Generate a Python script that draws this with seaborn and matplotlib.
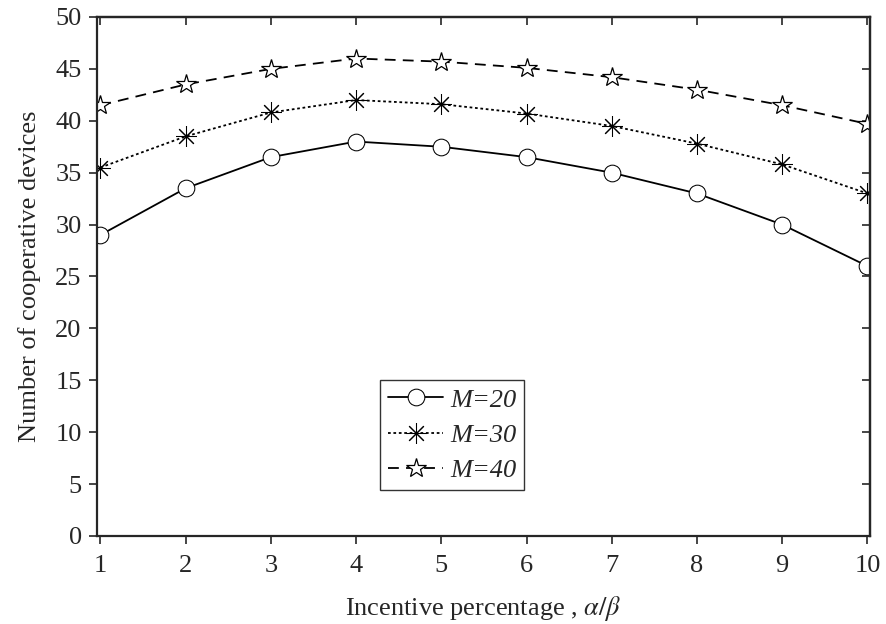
import matplotlib
matplotlib.use("Agg")
import matplotlib.pyplot as plt
import seaborn as sns
import pandas as pd

x_vals = [1, 2, 3, 4, 5, 6, 7, 8, 9, 10]
m20 = [29, 33.5, 36.5, 38, 37.5, 36.5, 35, 33, 30, 26]
m30 = [35.5, 38.5, 40.8, 42, 41.6, 40.7, 39.5, 37.8, 35.8, 33]
m40 = [41.5, 43.5, 45, 46, 45.7, 45.1, 44.2, 43, 41.5, 39.7]
labels = ["M=20", "M=30", "M=40"]

sns.set_style("ticks")
plt.rcParams["font.family"] = ["Liberation Serif", "DejaVu Serif"]
plt.rcParams["mathtext.fontset"] = "stix"

fig = plt.figure(figsize=(8.86, 6.24), dpi=100)
ax = fig.add_axes([97/886, 1-536/624, (870-97)/886, (536-17)/624])

styles = [
    dict(linestyle="-", marker="o", markersize=12, markerfacecolor="white"),
    dict(linestyle=(0, (1.5, 1.5)), marker=(8, 2, 0), markersize=15),
    dict(linestyle=(0, (6, 4)), marker="*", markersize=15, markerfacecolor="white", markeredgewidth=0.9),
]
for ys, lab, st in zip([m20, m30, m40], labels, styles):
    df = pd.DataFrame({"x": x_vals, "y": ys})
    sns.lineplot(data=df, x="x", y="y", ax=ax, color="black", linewidth=1.3,
                 markeredgecolor="black", label=lab, **st)

ax.set_xlim(0.96, 10.03)
ax.set_ylim(0, 50)
ax.set_xticks(range(1, 11))
ax.set_yticks(range(0, 51, 5))
ax.tick_params(axis="both", direction="out", length=6, width=1.2, labelsize=19, pad=5)
ax.tick_params(axis="x", pad=8)
for s in ax.spines.values():
    s.set_linewidth(1.6)
    s.set_visible(True)

secx = ax.secondary_xaxis("top")
secx.set_xticks(range(1, 11))
secx.tick_params(direction="in", length=6, width=1.2, labeltop=False)
secy = ax.secondary_yaxis("right")
secy.set_yticks(range(0, 51, 5))
secy.tick_params(direction="in", length=6, width=1.2, labelright=False)
for sa in (secx, secy):
    for s in sa.spines.values():
        s.set_linewidth(1.6)

ax.set_xlabel(r"Incentive percentage , $\alpha/\beta$", fontsize=19, labelpad=12)
ax.set_ylabel("Number of cooperative devices", fontsize=19, labelpad=10)

leg = ax.legend(loc="lower left", bbox_to_anchor=(0.366, 0.088), frameon=True,
                fancybox=False, edgecolor="black", handlelength=2.1,
                prop={"family": "Liberation Serif", "style": "italic", "size": 19},
                labelspacing=0.45, borderpad=0.3, handletextpad=0.25, borderaxespad=0)
leg.get_frame().set_linewidth(1.0)

fig.savefig("out.png", dpi=100)
